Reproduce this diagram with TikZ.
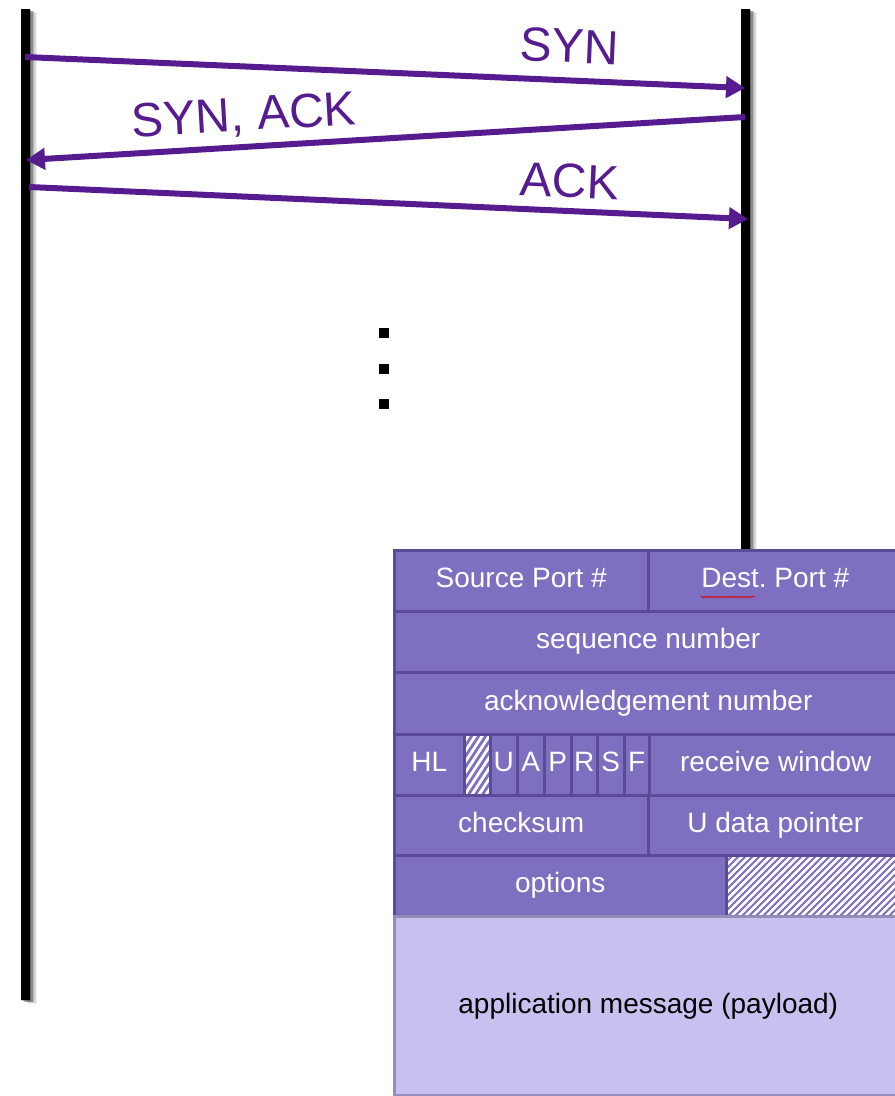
\documentclass[tikz,border=0pt]{standalone}
\usepackage{fontspec}
\setmainfont{Liberation Sans}
\usetikzlibrary{arrows.meta,decorations.pathmorphing}
\frenchspacing

\definecolor{msgpurple}{RGB}{86,27,143}
\definecolor{cellfill}{RGB}{127,111,192}
\definecolor{cellline}{RGB}{90,74,152}
\definecolor{payfill}{RGB}{201,192,240}
\definecolor{payline}{RGB}{150,140,186}

\tikzset{
  timeline/.style={line width=9pt, black},
  lineshadow/.style={line width=9pt, black, opacity=#1},
  msg/.style={msgpurple, line width=6pt,
    -{Triangle[length=19pt,width=21pt]}},
  msglabel/.style={msgpurple, font=\fontsize{48}{56}\selectfont, inner sep=0pt},
  dotmark/.style={fill=black, minimum size=10pt, inner sep=0pt},
  cell/.style={draw=cellline, line width=2.5pt, fill=cellfill, text=white,
    font=\fontsize{28}{32}\selectfont, inner sep=0pt, anchor=north west,
    text height=20pt, text depth=6pt},
  hatchwide/.style={path picture={
    \foreach \k in {0,7,...,280}
      \draw[white, line width=2.6pt]
        ([xshift=\k pt-70pt, yshift=-5pt]path picture bounding box.south west)
        -- ++(80pt,80pt);}},
  hatchnarrow/.style={path picture={
    \foreach \k in {0,7,...,84}
      \draw[white, line width=2.8pt]
        ([xshift=\k pt-45pt, yshift=-5pt]path picture bounding box.south west)
        -- ++(47pt,72pt);}},
  payload/.style={draw=payline, line width=2.5pt, fill=payfill, text=black,
    font=\fontsize{28}{32}\selectfont, inner sep=0pt, anchor=north west}
}

\begin{document}
\begin{tikzpicture}[x=1pt, y=-1pt]
\useasboundingbox (0,0) rectangle (895,1096);

% soft shadows of the two host timelines
\foreach \dx/\op in {1.5/0.3, 3/0.22, 4.5/0.16, 6/0.1, 7.5/0.06} {
  \draw[lineshadow=\op] (25+\dx, 9+\dx/2) -- (25+\dx, 1000+\dx/2);
  \draw[lineshadow=\op] (745+\dx, 9+\dx/2) -- (745+\dx, 560);
}
% host timelines
\draw[timeline] (25,9) -- (25,1000);
\draw[timeline] (745,9) -- (745,560);

% end points of the three handshake segments
\coordinate (synL) at (25,57);
\coordinate (synR) at (745,88);
\coordinate (sackR) at (745,117);
\coordinate (sackL) at (26,160);
\coordinate (ackL) at (29,187);
\coordinate (ackR) at (748,219);

\draw[msg] (synL) -- (synR);
\draw[msg] (sackR) -- (sackL);
\draw[msg] (ackL) -- (ackR);

\node[msglabel, rotate=-2.5] (synlab) at (570,46) {SYN};
\node[msglabel, rotate=3.3] (sacklab) at (244,117) {SYN, ACK};
\node[msglabel, rotate=-2.5] (acklab) at (570,181) {ACK};

% vertical ellipsis
\node[dotmark] (dot1) at (384,333) {};
\node[dotmark] (dot2) at (384,369) {};
\node[dotmark] (dot3) at (384,404) {};

% TCP segment structure
\begin{scope}
\clip (0,0) rectangle (895,1096);
\node[cell, minimum width=254pt, minimum height=61pt] (src) at (393,549) {Source Port \#};
\node[cell, minimum width=254pt, minimum height=61pt] (dst) at (647,549) {Dest. Port \#};
\node[cell, minimum width=508pt, minimum height=61pt] (seq) at (393,610) {sequence number};
\node[cell, minimum width=508pt, minimum height=62pt] (ackn) at (393,671) {acknowledgement number};

\node[cell, minimum width=70pt, minimum height=61pt] (hl) at (393,733) {HL};
\node[cell, hatchnarrow, minimum width=26pt, minimum height=61pt] (unused) at (463,733) {};
\node[cell, minimum width=27pt, minimum height=61pt] (fu) at (489,733) {U};
\node[cell, minimum width=27pt, minimum height=61pt] (fa) at (516,733) {A};
\node[cell, minimum width=27pt, minimum height=61pt] (fp) at (543,733) {P};
\node[cell, minimum width=26pt, minimum height=61pt] (fr) at (570,733) {R};
\node[cell, minimum width=27pt, minimum height=61pt] (fs) at (596,733) {S};
\node[cell, minimum width=25pt, minimum height=61pt] (ff) at (623,733) {F};
\node[cell, minimum width=253pt, minimum height=61pt] (rwnd) at (648,733) {receive window};

\node[cell, minimum width=254pt, minimum height=60pt] (csum) at (393,794) {checksum};
\node[cell, minimum width=254pt, minimum height=60pt] (urg) at (647,794) {U data pointer};

\node[cell, minimum width=332pt, minimum height=61pt] (opts) at (393,854) {options};
\node[cell, hatchwide, minimum width=176pt, minimum height=61pt] (pad) at (725,854) {};

\node[payload, minimum width=508pt, minimum height=179pt] (data) at (393,915) {application message (payload)};
\end{scope}

% spell-check underline beneath "Dest"
\draw[red!85!black, line width=0.7pt,
  decorate, decoration={snake, amplitude=0.8pt, segment length=3pt}]
  (701,597) -- (755,597);
\end{tikzpicture}
\end{document}
